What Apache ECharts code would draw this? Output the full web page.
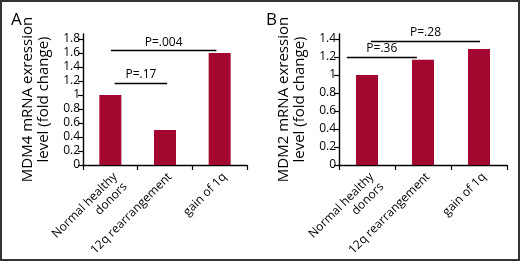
<!DOCTYPE html>
<html>
<head>
<meta charset="utf-8">
<script src="https://cdn.jsdelivr.net/npm/echarts@6/dist/echarts.min.js"></script>
<style>
html,body{margin:0;padding:0;background:#fff;}
#chart{width:520px;height:261px;}
</style>
</head>
<body>
<div id="chart"></div>
<script>
const categories = ['Normal healthy\ndonors', '12q rearrangement', 'gain of 1q'];
const mdm4Values = [1.0, 0.5, 1.6];
const mdm2Values = [1.0, 1.17, 1.29];
const mdm4Ticks = [0, 0.2, 0.4, 0.6, 0.8, 1, 1.2, 1.4, 1.6, 1.8];
const mdm2Ticks = [0, 0.2, 0.4, 0.6, 0.8, 1, 1.2, 1.4];
const mdm4Name = 'MDM4 mRNA exression\nlevel (fold change)';
const mdm2Name = 'MDM2 mRNA exression\nlevel (fold change)';
// brackets: [xStart, xEnd] in category units, y value, label
const mdm4Brackets = [
  {x: [0.08, 1.04], y: 1.17, text: 'P=.17'},
  {x: [0.01, 1.94], y: 1.64, text: 'P=.004'}
];
const mdm2Brackets = [
  {x: [-0.36, 0.89], y: 1.2, text: 'P=.36'},
  {x: [0.07, 2.02], y: 1.38, text: 'P=.28'}
];

const FONT = 'Open Sans';
const BAR = '#a3062e';

function bracketSeries(list, xi, yi) {
  return list.map(b => ({
    type: 'line',
    xAxisIndex: xi, yAxisIndex: yi,
    data: [],
    silent: true,
    markLine: {
      silent: true,
      symbol: 'none',
      animation: false,
      lineStyle: {color: '#000', width: 1.4, type: 'solid'},
      label: {show: true, position: 'middle', formatter: b.text, color: '#000',
              fontFamily: FONT, fontSize: 12, distance: 2},
      data: [[{coord: [b.x[0], b.y]}, {coord: [b.x[1], b.y]}]]
    }
  }));
}

function yAxis(grid, ticks, max, name) {
  return {
    type: 'value', gridIndex: grid, min: 0, max: max,
    name: name, nameLocation: 'middle', nameRotate: 90, nameGap: 31,
    nameMoveOverlap: false,
    nameTextStyle: {fontFamily: FONT, fontSize: 15, color: '#000', lineHeight: 16},
    axisLine: {show: true, onZero: false, lineStyle: {color: '#000', width: 1.4}},
    axisTick: {show: true, length: 5, lineStyle: {color: '#000', width: 1.2}, customValues: ticks},
    axisLabel: {fontFamily: FONT, fontSize: 12, color: '#000', margin: 3, customValues: ticks},
    splitLine: {show: false}
  };
}

function xCat(grid) {
  return {
    type: 'category', gridIndex: grid, data: categories,
    axisLine: {show: true, onZero: false, lineStyle: {color: '#000', width: 1.4}},
    axisTick: {show: true, length: 5, lineStyle: {color: '#000', width: 1.2}},
    axisLabel: {interval: 0, rotate: 45, fontFamily: FONT, fontSize: 12, color: '#000',
                margin: 5, lineHeight: 14, verticalAlign: 'top'},
    splitLine: {show: false}
  };
}
function xVal(grid) {
  return {type: 'value', gridIndex: grid, min: -0.5, max: 2.5, show: false,
          axisLine: {onZero: false}};
}

const chart = echarts.init(document.getElementById('chart'), null, {renderer: 'canvas'});
chart.setOption({
  animation: false,
  backgroundColor: '#fff',
  grid: [
    {left: 83, top: 34, width: 164, height: 131},
    {left: 339, top: 34, width: 168, height: 131}
  ],
  xAxis: [xCat(0), xVal(0), xCat(1), xVal(1)],
  yAxis: [yAxis(0, mdm4Ticks, 1.87, mdm4Name), yAxis(1, mdm2Ticks, 1.456, mdm2Name)],
  series: [
    {type: 'bar', xAxisIndex: 0, yAxisIndex: 0, data: mdm4Values, barWidth: 22,
     itemStyle: {color: BAR}},
    {type: 'bar', xAxisIndex: 2, yAxisIndex: 1, data: mdm2Values, barWidth: 22,
     itemStyle: {color: BAR}},
    ...bracketSeries(mdm4Brackets, 1, 0),
    ...bracketSeries(mdm2Brackets, 3, 1)
  ],
  graphic: [
    {type: 'rect', shape: {x: 1, y: 1, width: 518, height: 259},
     style: {fill: 'none', stroke: '#333', lineWidth: 2}},
    {type: 'text', left: 11, top: 12, style: {text: 'A', font: '17px "Open Sans"', fill: '#000'}},
    {type: 'text', left: 266, top: 12, style: {text: 'B', font: '17px "Open Sans"', fill: '#000'}}
  ]
});
</script>
</body>
</html>
